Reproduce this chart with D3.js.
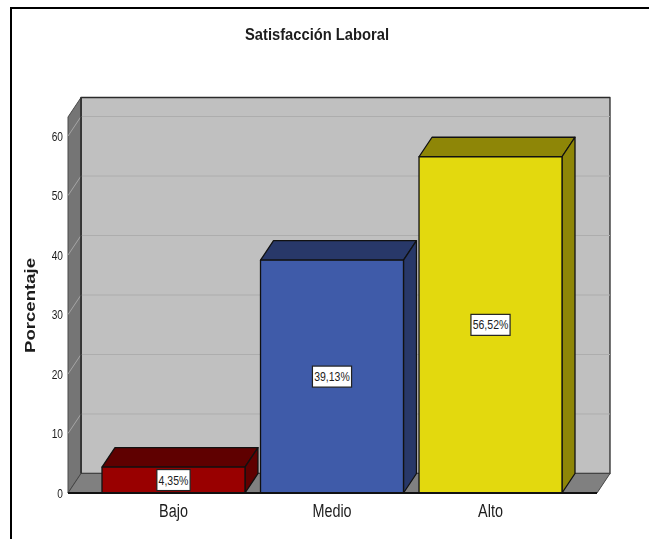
<!DOCTYPE html>
<html>
<head>
<meta charset="utf-8">
<script src="https://cdn.jsdelivr.net/npm/d3@7"></script>
<style>
  html, body { margin: 0; background: #fff; overflow: hidden; }
  svg { display: block; filter: blur(0.35px); }
  text { font-family: "Liberation Sans", Arial, sans-serif; fill: #1c1c1c; }
</style>
</head>
<body>
<div id="chart"></div>
<script>
// Values
const categories = ["Bajo", "Medio", "Alto"];
const percentages = [4.35, 39.13, 56.52];
const valueLabels = ["4,35%", "39,13%", "56,52%"];
const yTicks = [0, 10, 20, 30, 40, 50, 60];
const yTop = 63.2;
const barFill = ["#990000", "#3f5ba9", "#e3d90e"];
const barDark = ["#5f0000", "#283869", "#8e8607"];

const width = 649, height = 539;
// Oblique offset of the fake 3D box
const dx = 13, dy = -19.5;
const boxLeft = 68, boxRight = 597, floorY = 493;

const svg = d3.select("#chart").append("svg")
    .attr("width", width)
    .attr("height", height);

const y = d3.scaleLinear().domain([0, yTop]).range([floorY, 117]);
const x = d3.scaleBand().domain(categories).range([102, 562]).paddingInner(0.098);

// Squeeze text horizontally, the original font is a narrow one
function squeeze(sel, factor) {
    sel.each(function() {
        const w = this.getComputedTextLength();
        d3.select(this)
            .attr("textLength", w * factor)
            .attr("lengthAdjust", "spacingAndGlyphs");
    });
}

function poly(points, fill, stroke, sw) {
    return svg.append("polygon")
        .attr("points", points.map(p => p.join(",")).join(" "))
        .attr("fill", fill)
        .attr("stroke", stroke)
        .attr("stroke-width", sw)
        .attr("stroke-linejoin", "round");
}

// Outer frame, only top and left are visible
svg.append("path")
    .attr("d", `M11,${height} V8 H${width}`)
    .attr("fill", "none")
    .attr("stroke", "#000")
    .attr("stroke-width", 2);

// Back wall, left wall, floor
const wallTop = y(yTop);
poly([[boxLeft + dx, wallTop + dy], [boxRight + dx, wallTop + dy], [boxRight + dx, floorY + dy], [boxLeft + dx, floorY + dy]], "#c0c0c0", "#2b2b2b", 1.3);
poly([[boxLeft, wallTop], [boxLeft + dx, wallTop + dy], [boxLeft + dx, floorY + dy], [boxLeft, floorY]], "#757575", "#4a4a4a", 1);
poly([[boxLeft, floorY], [boxLeft + dx, floorY + dy], [boxRight + dx, floorY + dy], [boxRight, floorY]], "#808080", "#444", 1);

// Gridlines, running over left wall and back wall
const grid = svg.append("g").selectAll("g")
    .data(yTicks.filter(d => d > 0))
    .join("g");
grid.append("line")
    .attr("x1", boxLeft).attr("x2", boxLeft + dx)
    .attr("y1", d => y(d)).attr("y2", d => y(d) + dy)
    .attr("stroke", "#a5a5a5").attr("stroke-width", 1);
grid.append("line")
    .attr("x1", boxLeft + dx).attr("x2", boxRight + dx)
    .attr("y1", d => y(d) + dy).attr("y2", d => y(d) + dy)
    .attr("stroke", "#adadad").attr("stroke-width", 1);

// Wall corner stays dark on top of the gridlines
svg.append("line")
    .attr("x1", boxLeft + dx).attr("x2", boxLeft + dx)
    .attr("y1", wallTop + dy).attr("y2", floorY + dy)
    .attr("stroke", "#2b2b2b").attr("stroke-width", 1.5);

// Bars
percentages.forEach((v, i) => {
    const x0 = x(categories[i]), x1 = x0 + x.bandwidth(), yv = y(v);
    poly([[x0, yv], [x0 + dx, yv + dy], [x1 + dx, yv + dy], [x1, yv]], barDark[i], "#111", 1.3);
    poly([[x1, yv], [x1 + dx, yv + dy], [x1 + dx, floorY + dy], [x1, floorY]], barDark[i], "#111", 1.3);
    poly([[x0, yv], [x1, yv], [x1, floorY], [x0, floorY]], barFill[i], "#111", 1.3);
});

// Front edge of the floor
svg.append("line")
    .attr("x1", boxLeft).attr("x2", boxRight)
    .attr("y1", floorY).attr("y2", floorY)
    .attr("stroke", "#111").attr("stroke-width", 2);

// Value labels
percentages.forEach((v, i) => {
    const cx = x(categories[i]) + x.bandwidth() / 2;
    const cy = (y(v) + floorY) / 2;
    const box = svg.append("rect").attr("fill", "#fff").attr("stroke", "#222").attr("stroke-width", 1.2);
    const t = svg.append("text")
        .attr("x", cx).attr("y", cy + 4.5)
        .attr("text-anchor", "middle")
        .attr("font-size", 12.5)
        .text(valueLabels[i])
        .call(squeeze, 0.84);
    const w = t.attr("textLength") * 1 + 3.5;
    box.attr("x", cx - w / 2).attr("y", cy - 10.5).attr("width", w).attr("height", 21);
});

// Axes
const yAxis = svg.append("g")
    .attr("transform", `translate(${boxLeft},0)`)
    .call(d3.axisLeft(y).tickValues(yTicks).tickSize(0).tickPadding(5));
yAxis.select(".domain").remove();
yAxis.selectAll("text")
    .attr("font-size", 13)
    .call(squeeze, 0.78);
yAxis.attr("font-family", null);

const xAxis = svg.append("g")
    .attr("transform", `translate(0,${floorY})`)
    .call(d3.axisBottom(x).tickSize(0).tickPadding(11));
xAxis.select(".domain").remove();
xAxis.selectAll("text")
    .attr("font-size", 18)
    .call(squeeze, 0.8);
xAxis.attr("font-family", null);

// Title and axis title
svg.append("text")
    .attr("x", 317).attr("y", 40)
    .attr("text-anchor", "middle")
    .attr("font-size", 16.5)
    .attr("font-weight", "bold")
    .attr("textLength", 144)
    .attr("lengthAdjust", "spacingAndGlyphs")
    .text("Satisfacción Laboral");

svg.append("text")
    .attr("transform", "translate(35,305.5) rotate(-90)")
    .attr("text-anchor", "middle")
    .attr("font-size", 15)
    .attr("font-weight", "bold")
    .attr("textLength", 95)
    .attr("lengthAdjust", "spacingAndGlyphs")
    .text("Porcentaje");
</script>
</body>
</html>
